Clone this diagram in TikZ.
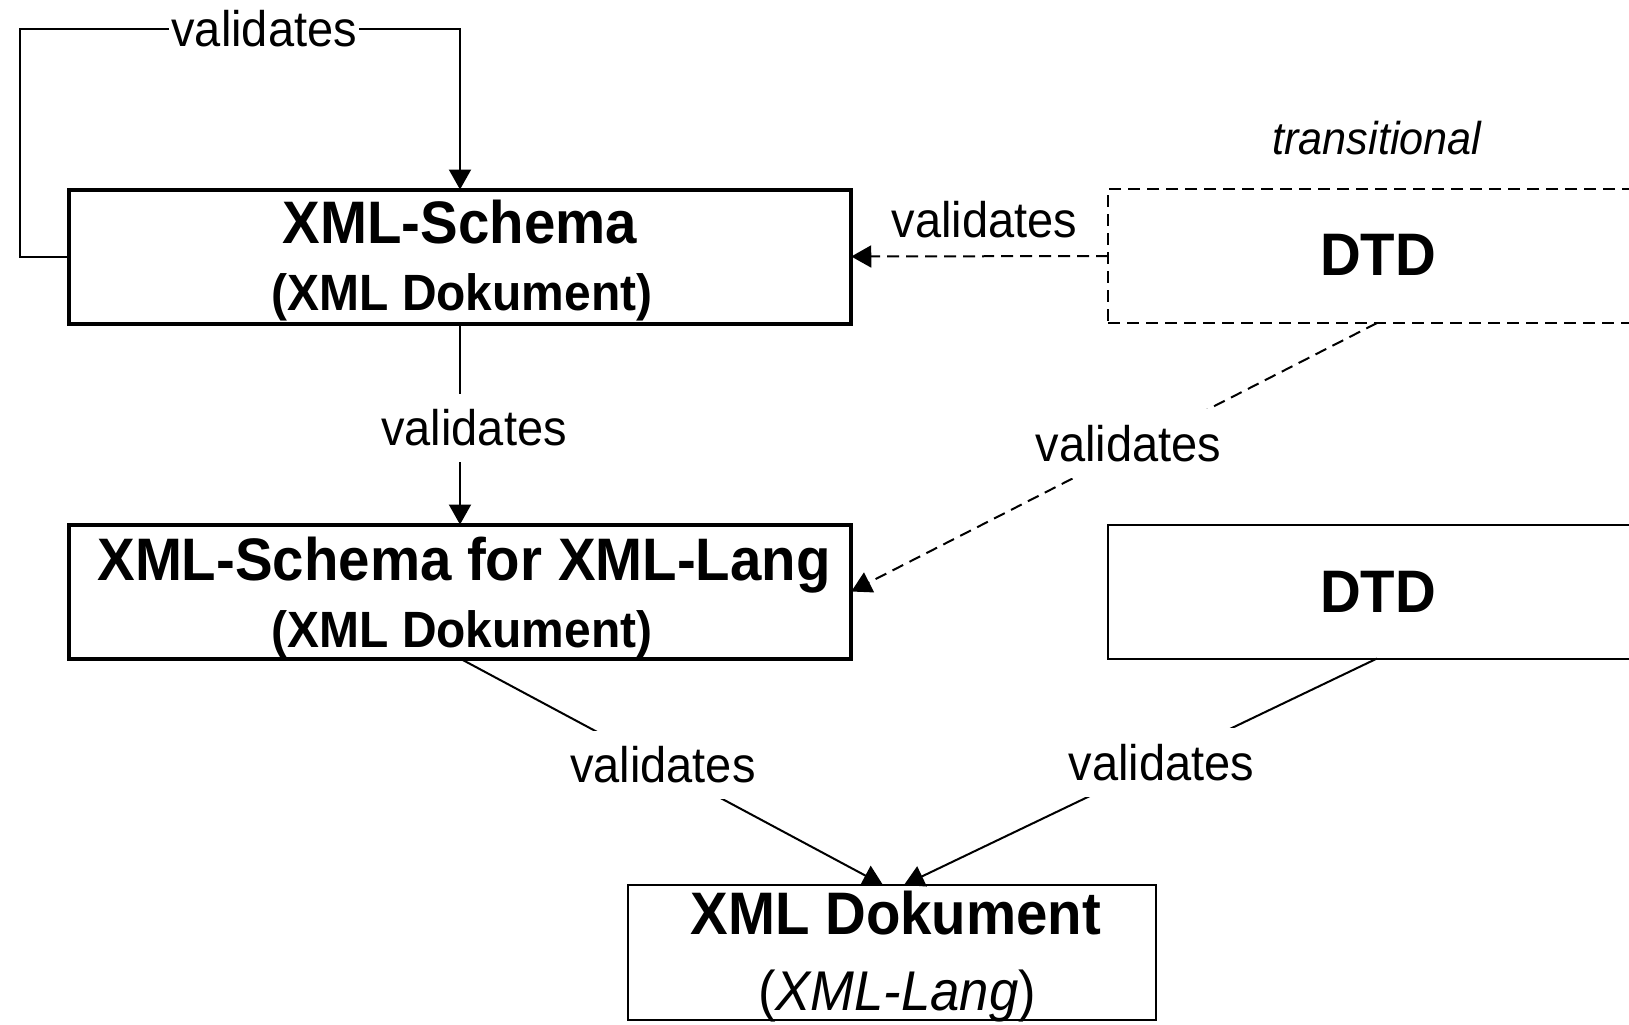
\documentclass[tikz,border=0pt]{standalone}
\usepackage{fontspec}
\setmainfont[FakeStretch=0.94]{Liberation Sans}
\usetikzlibrary{arrows.meta}

\tikzset{
  boxbase/.style={draw, rectangle, inner sep=0pt, outer sep=0pt},
  mainbox/.style={boxbase, line width=2pt, minimum width=391.25pt, minimum height=67pt},
  dtdbox/.style={boxbase, line width=1pt, minimum width=269pt, minimum height=67pt},
  dtdopt/.style={dtdbox, dash pattern=on 6pt off 3.5pt},
  docbox/.style={boxbase, line width=1pt, minimum width=264pt, minimum height=67.5pt},
  txt/.style={inner sep=0pt, anchor=base},
  bigb/.style={txt, font=\fontsize{30}{36}\selectfont\bfseries},
  subb/.style={txt, font=\fontsize{25.5}{30}\selectfont\bfseries},
  langtxt/.style={txt, font=\fontsize{28}{34}\selectfont},
  transtxt/.style={txt, font=\fontsize{23}{28}\selectfont\itshape},
  conn/.style={line width=1pt, -{Triangle[width=11pt,length=10pt]}},
  dconn/.style={conn, dash pattern=on 6pt off 3.5pt},
  lbl/.style={font=\fontsize{25}{30}\selectfont, fill=white, inner xsep=1pt, inner ysep=8pt},
  plainlbl/.style={font=\fontsize{25}{30}\selectfont, inner sep=2pt}
}

\begin{document}
\begin{tikzpicture}[x=0.5pt, y=-0.5pt]
  \useasboundingbox (0,0) rectangle (1629,1024);
  \clip (0,0) rectangle (1629,1024);

  % schema boxes
  \node[mainbox] (s1) at (460,256.5) {};
  \node[bigb] (s1a) at (460,243) {XML-Schema};
  \node[subb] (s1b) at (462,310) {(XML Dokument)};

  \node[mainbox] (s2) at (460,591.5) {};
  \node[bigb] (s2a) at (464,580) {XML-Schema for XML-Lang};
  \node[subb] (s2b) at (462,647) {(XML Dokument)};

  % DTD boxes on the right
  \node[transtxt] (tr) at (1377,154) {transitional};
  \node[dtdopt] (d1) at (1377,256) {};
  \node[bigb] (d1a) at (1378,275) {DTD};

  \node[dtdbox] (d2) at (1377,591.5) {};
  \node[bigb] (d2a) at (1378,612) {DTD};

  % document box
  \node[docbox] (b3) at (892,952.5) {};
  \node[bigb] (b3a) at (896,934) {XML Dokument};
  \node[langtxt] (b3b) at (897,1010) {(\textit{XML-Lang})};

  % self-validation loop of the schema
  \coordinate (la) at (20,256.5);
  \coordinate (lb) at (20,29);
  \coordinate (lc) at (460,29);
  \draw[conn] (s1.west) -- (la) -- (lb)
    -- node[lbl, pos=0.555] (l0) {validates} (lc) -- (s1.north);

  % schema validates the language schema
  \draw[conn] (s1.south) -- node[lbl, xshift=7pt, yshift=-2pt] (l1) {validates} (s2.north);

  % transitional DTD validates the schemas
  \draw[dconn] (d1.west) -- node[plainlbl, above=6.5pt, xshift=2.5pt] (l2) {validates} (s1.east);
  \draw[dconn] (d1.south) -- node[lbl, pos=0.45, xshift=-6pt] (l3) {validates} (s2.east);

  % both validate the document
  \coordinate (b3l) at ([xshift=-4.5pt]b3.north);
  \coordinate (b3r) at ([xshift=6pt]b3.north);
  \draw[conn] (s2.south) -- node[lbl, pos=0.47, xshift=2pt] (l4) {validates} (b3l);
  \draw[conn] (d2.south) -- node[lbl, pos=0.46, xshift=1pt] (l5) {validates} (b3r);
\end{tikzpicture}
\end{document}
